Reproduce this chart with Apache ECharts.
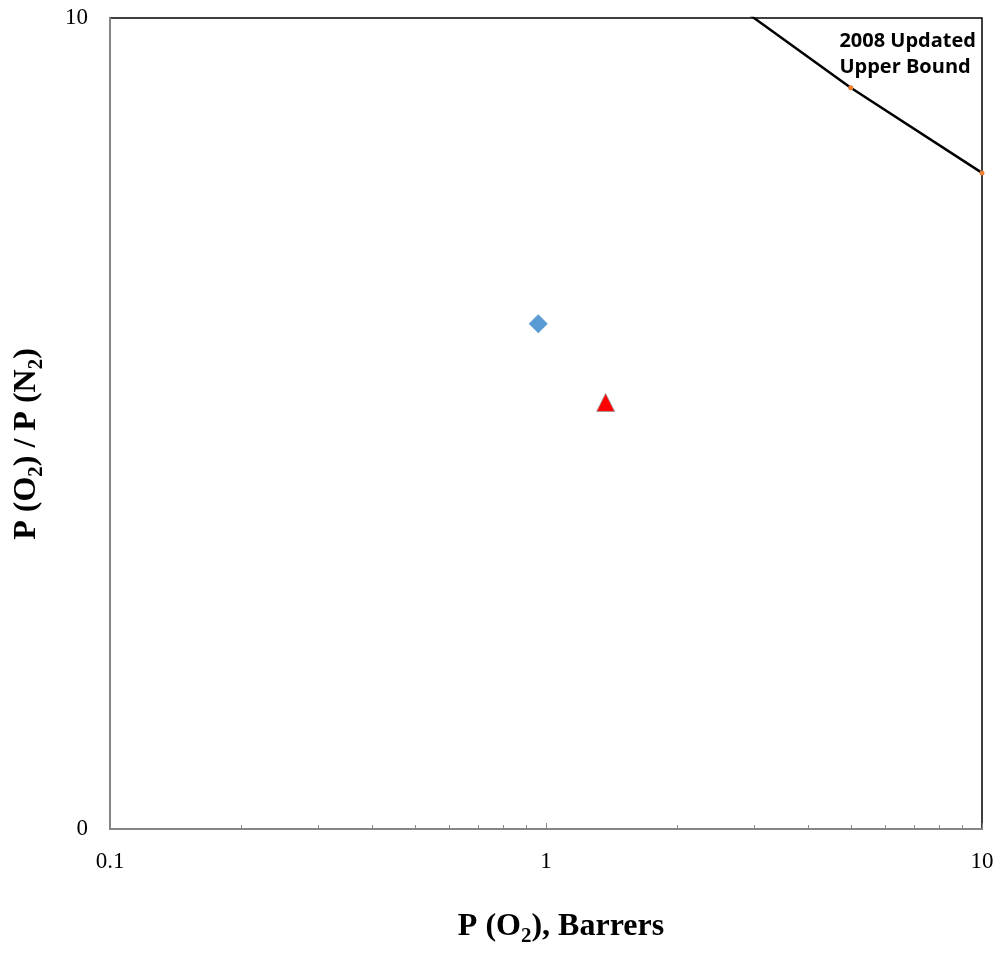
<!DOCTYPE html>
<html>
<head>
<meta charset="utf-8">
<script src="https://cdn.jsdelivr.net/npm/echarts@6/dist/echarts.min.js"></script>
<style>
  html, body { margin: 0; padding: 0; background: #fff; }
  #chart { width: 998px; height: 963px; }
</style>
</head>
<body>
<div id="chart"></div>
<script>
// O2 permeability (Barrers) and O2/N2 selectivity of the two membranes
const diamondPoint = [[0.96, 6.23]];
const trianglePoint = [[1.37, 5.26]];

// 2008 upper bound for O2/N2: permeability vs. selectivity
const boundPermeability = [2, 3, 5, 10];
const boundSelectivity = [10.75, 10.0, 9.14, 8.09];
// only these bound points carry a visible marker
const boundMarked = [false, false, true, true];

// axis ranges and the y labels that are shown
const xRange = [0.1, 10];
const yRange = [0, 10];
const yTickStep = 10;

const boundData = boundPermeability.map((p, i) => ({
  value: [p, boundSelectivity[i]],
  symbol: boundMarked[i] ? 'circle' : 'none'
}));

const serif = '"Liberation Serif", "Times New Roman", serif';
const titleRich = {
  m: { fontFamily: serif, fontWeight: 'bold', fontSize: 32, lineHeight: 40, fill: '#000', color: '#000' },
  s: { fontFamily: serif, fontWeight: 'bold', fontSize: 21, lineHeight: 22, verticalAlign: 'bottom', fill: '#000', color: '#000' }
};

const chart = echarts.init(document.getElementById('chart'), null, { renderer: 'canvas' });

chart.setOption({
  backgroundColor: '#ffffff',
  animation: false,
  grid: {
    left: 110, right: 16, top: 18, bottom: 134,
    containLabel: false,
    outerBoundsMode: 'none',
    show: true,
    borderColor: '#000',
    borderWidth: 1.5,
    backgroundColor: 'transparent'
  },
  xAxis: {
    type: 'log',
    logBase: 10,
    min: xRange[0],
    max: xRange[1],
    position: 'bottom',
    axisLine: { show: true, lineStyle: { color: '#868686', width: 2 } },
    axisTick: { show: true, inside: true, length: 6, lineStyle: { color: '#868686', width: 1 } },
    minorTick: { show: true, splitNumber: 9, length: 4, lineStyle: { color: '#868686', width: 1 } },
    axisLabel: {
      fontFamily: serif, fontSize: 23, color: '#000', margin: 21,
      formatter: v => String(v)
    },
    splitLine: { show: false },
    minorSplitLine: { show: false }
  },
  yAxis: {
    type: 'value',
    min: yRange[0],
    max: yRange[1],
    interval: yTickStep,
    position: 'left',
    axisLine: { show: true, lineStyle: { color: '#868686', width: 2 } },
    axisTick: { show: false },
    axisLabel: { fontFamily: serif, fontSize: 23, color: '#000', margin: 22 },
    splitLine: { show: false }
  },
  series: [
    {
      name: 'Upper bound',
      type: 'line',
      data: boundData,
      clip: true,
      symbolSize: 5,
      itemStyle: { color: '#ED7D31' },
      lineStyle: { color: '#000', width: 2.5 },
      z: 3
    },
    {
      name: 'Membrane A',
      type: 'scatter',
      data: diamondPoint,
      symbol: 'diamond',
      symbolSize: [19, 19],
      itemStyle: { color: '#5B9BD5', opacity: 1 },
      z: 4
    },
    {
      name: 'Membrane B',
      type: 'scatter',
      data: trianglePoint,
      symbol: 'triangle',
      symbolSize: [18, 18],
      itemStyle: { color: '#FF0000', borderColor: '#9a9a9a', borderWidth: 0.8, opacity: 1 },
      z: 4
    }
  ],
  graphic: [
    {
      type: 'text',
      right: 22,
      top: 28,
      z: 10,
      style: {
        text: '2008 Updated\nUpper Bound',
        font: 'bold 20px "Open Sans", "Liberation Sans", sans-serif',
        fill: '#000',
        lineHeight: 26,
        align: 'left'
      }
    },
    {
      type: 'text',
      x: 561,
      y: 927,
      z: 10,
      style: {
        text: '{m|P (O}{s|2}{m|), Barrers}',
        rich: titleRich,
        align: 'center',
        verticalAlign: 'middle'
      }
    },
    {
      type: 'text',
      x: 27,
      y: 444,
      rotation: Math.PI / 2,
      z: 10,
      style: {
        text: '{m|P (O}{s|2}{m|) / P (N}{s|2}{m|)}',
        rich: titleRich,
        align: 'center',
        verticalAlign: 'middle'
      }
    }
  ]
});
</script>
</body>
</html>
